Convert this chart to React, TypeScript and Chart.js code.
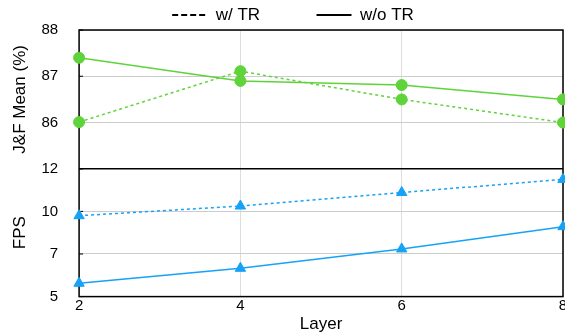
import React, { useEffect, useRef } from "react";
import { Chart, registerables } from "chart.js";

Chart.register(...registerables);

const layers = [2, 4, 6, 8];
const jfWithTR = [86.01, 87.11, 86.5, 86.0];
const jfWithoutTR = [87.4, 86.9, 86.81, 86.5];
const fpsWithTR = [9.43, 9.96, 10.7, 11.42];
const fpsWithoutTR = [5.73, 6.55, 7.61, 8.83];
const legendLabels = ["w/ TR", "w/o TR"];
const xTitle = "Layer";
const yTopTitle = "J&F Mean (%)";
const yBotTitle = "FPS";

const GREEN = "#5fd33a";
const BLUE = "#16a2f7";
const FONT = "'Liberation Sans', Arial, Helvetica, sans-serif";

const framePlugin = {
  id: "frame",
  beforeDatasetsDraw(chart: any) {
    const { ctx, chartArea } = chart;
    const yTop = chart.scales.yTop;
    const yBot = chart.scales.yBot;
    ctx.save();
    ctx.strokeStyle = "#000";
    ctx.lineWidth = 1.5;
    ctx.strokeRect(chartArea.left, chartArea.top, chartArea.right - chartArea.left, chartArea.bottom - chartArea.top);
    ctx.beginPath();
    ctx.moveTo(chartArea.left, yBot.top);
    ctx.lineTo(chartArea.right, yBot.top);
    ctx.stroke();
    ctx.lineWidth = 1;
    [yTop, yBot].forEach((s: any) => {
      s.ticks.forEach((t: any) => {
        const y = s.getPixelForValue(t.value);
        ctx.beginPath();
        ctx.moveTo(chartArea.left, y);
        ctx.lineTo(chartArea.left + 4, y);
        ctx.stroke();
      });
    });
    ctx.restore();
  },
};

export default function App() {
  const ref = useRef<HTMLCanvasElement>(null);
  useEffect(() => {
    if (!ref.current) return;
    const ds = (data: number[], axis: string, color: string, dashed: boolean, style: string, r: number) => ({
      data: layers.map((x, i) => ({ x, y: data[i] })),
      yAxisID: axis,
      borderColor: color,
      backgroundColor: color,
      borderWidth: 1.5,
      borderDash: dashed ? [3, 3] : [],
      pointStyle: style,
      pointRadius: r,
      pointBorderWidth: 1,
      pointBackgroundColor: color,
      pointBorderColor: color,
      clip: false as any,
      tension: 0,
    });
    const tickFont = { family: FONT, size: 15 };
    const titleFont = { family: FONT, size: 17 };
    const chart = new Chart(ref.current, {
      type: "line",
      data: {
        datasets: [
          ds(jfWithTR, "yTop", GREEN, true, "circle", 5.5),
          ds(jfWithoutTR, "yTop", GREEN, false, "circle", 5.5),
          ds(fpsWithTR, "yBot", BLUE, true, "triangle", 6),
          ds(fpsWithoutTR, "yBot", BLUE, false, "triangle", 6),
        ],
      },
      options: {
        animation: false,
        responsive: true,
        maintainAspectRatio: false,
        layout: { autoPadding: false, padding: { left: 23, right: 2, top: 0, bottom: 0 } },
        plugins: {
          tooltip: { enabled: false },
          legend: {
            position: "top",
            align: "center",
            maxHeight: 28,
            labels: {
              usePointStyle: true,
              pointStyleWidth: 35,
              padding: 4.5,
              color: "#000",
              font: titleFont,
              generateLabels: () => [
                {
                  text: legendLabels[0] + "           ",
                  strokeStyle: "#000",
                  fillStyle: "rgba(0,0,0,0)",
                  lineWidth: 2,
                  lineDash: [6, 3],
                  pointStyle: "line",
                  hidden: false,
                  datasetIndex: 0,
                  fontColor: "#000",
                } as any,
                {
                  text: legendLabels[1],
                  strokeStyle: "#000",
                  fillStyle: "rgba(0,0,0,0)",
                  lineWidth: 2,
                  lineDash: [],
                  pointStyle: "line",
                  hidden: false,
                  datasetIndex: 1,
                  fontColor: "#000",
                } as any,
              ],
            },
          },
        },
        scales: {
          x: {
            type: "linear",
            min: 2,
            max: 8,
            afterFit: (s: any) => {
              s.paddingRight = 0;
              s.paddingLeft = 0;
            },
            ticks: { stepSize: 2, padding: 0, color: "#000", font: tickFont },
            grid: { color: "#dddddd", lineWidth: 1, drawTicks: false },
            border: { display: false },
            title: { display: true, text: xTitle, color: "#000", padding: { top: 0, bottom: -1 }, font: titleFont },
          },
          yBot: {
            type: "linear",
            position: "left",
            stack: "panels",
            stackWeight: 128,
            min: 5,
            max: 12,
            ticks: {
              count: 4,
              padding: 21,
              color: "#000",
              font: tickFont,
              callback: (v: any) => String(Math.round(v)),
            },
            grid: { color: "#cccccc", lineWidth: 1, drawTicks: false },
            border: { display: false },
            title: { display: true, text: yBotTitle, color: "#000", padding: { top: -13, bottom: -10 }, font: titleFont },
          },
          yTop: {
            type: "linear",
            position: "left",
            stack: "panels",
            stackWeight: 139,
            min: 85,
            max: 88,
            ticks: {
              count: 4,
              padding: 21,
              color: "#000",
              font: tickFont,
              callback: (v: any) => (Math.round(v) === 85 ? "" : String(Math.round(v))),
            },
            grid: { color: "#cccccc", lineWidth: 1, drawTicks: false },
            border: { display: false },
            title: { display: true, text: yTopTitle, color: "#000", padding: { top: -13, bottom: -10 }, font: titleFont },
          },
        },
      },
      plugins: [framePlugin],
    });
    return () => chart.destroy();
  }, []);
  return (
    <div style={{ position: "fixed", left: 0, top: 0, width: 565, height: 334, background: "#fff" }}>
      <canvas ref={ref} />
    </div>
  );
}
